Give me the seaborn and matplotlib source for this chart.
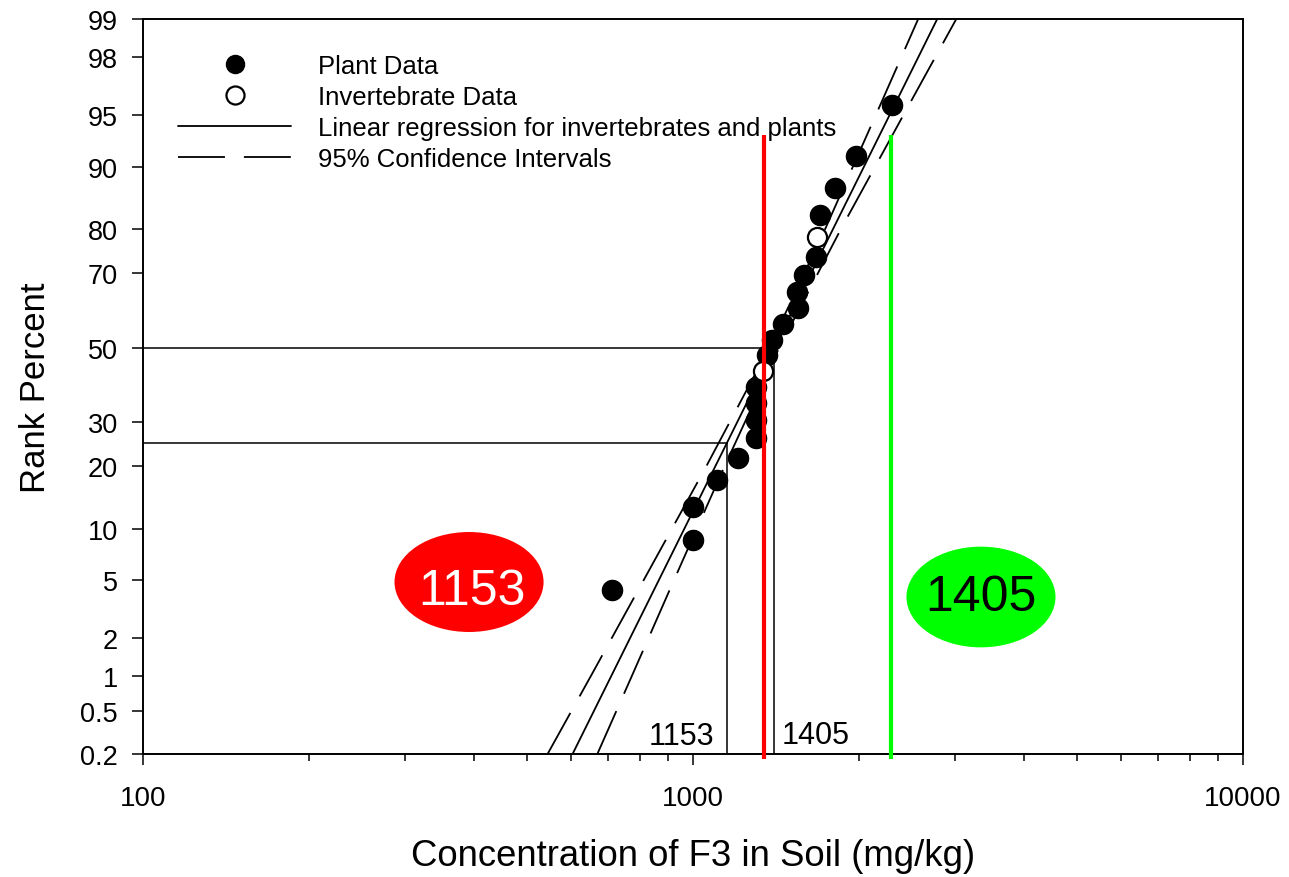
import numpy as np
import pandas as pd
import matplotlib
matplotlib.use("Agg")
import matplotlib.pyplot as plt
import seaborn as sns
from matplotlib.lines import Line2D
from matplotlib.patches import Ellipse
from matplotlib.ticker import FixedLocator, NullLocator, NullFormatter
from statistics import NormalDist

# --- Data ---
plant_conc = [713, 1002, 1002, 1106, 1207, 1300, 1300, 1300, 1300, 1362,
              1390, 1456, 1550, 1545, 1591, 1671, 1700, 1810, 1977, 2296]
plant_rank = [4.3, 8.7, 13.0, 17.4, 21.7, 26.1, 30.4, 34.8, 39.1, 47.8,
              52.2, 56.5, 60.9, 65.2, 69.6, 73.9, 82.6, 87.0, 91.3, 95.7]

invert_conc = [1340, 1678]
invert_rank = [43.5, 78.3]

# regression line end points
reg_conc = [604, 2780]
reg_rank = [0.2, 99]

# 95% confidence band
ci_rank = [0.2, 1, 5, 20, 50, 80, 95, 99]
ci_low = [544, 652, 814, 1057, 1376, 1740, 2149, 2567]
ci_high = [670, 774, 924, 1141, 1435, 1859, 2412, 3011]

# 25th / 50th percentile read-offs
hc5_values = [1153, 1405]
hc5_ranks = [25, 50]

# coloured markers
red_x = 1345
green_x = 2294
marker_top = 93.4
marker_bottom = 0.18

y_ticks = [0.2, 0.5, 1, 2, 5, 10, 20, 30, 50, 70, 80, 90, 95, 98, 99]
y_ticklabels = ["0.2", "0.5", "1", "2", "5", "10", "20", "30", "50",
                "70", "80", "90", "95", "98", "99"]

# --- probability scale helpers ---
_nd = NormalDist()
_ppf = np.vectorize(lambda p: _nd.inv_cdf(min(max(p / 100.0, 1e-9), 1 - 1e-9)),
                    otypes=[float])
_cdf = np.vectorize(lambda z: _nd.cdf(z) * 100.0, otypes=[float])


def prob_forward(p):
    return _ppf(np.asarray(p, dtype=float))


def prob_inverse(z):
    return _cdf(np.asarray(z, dtype=float))


sns.set_style("ticks")
plt.rcParams["font.family"] = ["Liberation Sans", "DejaVu Sans"]
plt.rcParams["text.color"] = "black"
plt.rcParams["axes.labelcolor"] = "black"
plt.rcParams["xtick.color"] = "black"
plt.rcParams["ytick.color"] = "black"

fig = plt.figure(figsize=(12.89, 8.78), dpi=100)
ax = fig.add_axes([143 / 1289, 1 - 755 / 878, 1100 / 1289, 735 / 878])

plants = pd.DataFrame({"conc": plant_conc, "rank": plant_rank})
inverts = pd.DataFrame({"conc": invert_conc, "rank": invert_rank})

# reference lines at the 25th and 50th percentile
for xv, rv in zip(hc5_values, hc5_ranks):
    ax.plot([100, xv], [rv, rv], color="black", lw=1.1, zorder=2)
    ax.plot([xv, xv], [0.2, rv], color="black", lw=1.1, zorder=2)

dash = (26, 10.5)
sns.lineplot(x=reg_conc, y=reg_rank, color="black", lw=1.3, sort=False,
             estimator=None, ax=ax, zorder=3)
sns.lineplot(x=ci_low, y=ci_rank, color="black", lw=1.3, sort=False,
             estimator=None, ax=ax, zorder=3)
sns.lineplot(x=ci_high, y=ci_rank, color="black", lw=1.3, sort=False,
             estimator=None, ax=ax, zorder=3)
for ln in ax.lines[-2:]:
    ln.set_dashes(dash)

sns.scatterplot(data=plants, x="conc", y="rank", color="black", s=210,
                edgecolor="black", linewidth=1, ax=ax, zorder=4)
sns.scatterplot(data=inverts, x="conc", y="rank", color="white", s=190,
                edgecolor="black", linewidth=1.6, ax=ax, zorder=4)

ax.vlines(red_x, marker_bottom, marker_top, color="#ff0000", lw=3, zorder=5,
          clip_on=False)
ax.vlines(green_x, marker_bottom, marker_top, color="#00ff00", lw=3, zorder=5,
          clip_on=False)

ax.set_xscale("log")
ax.set_yscale("function", functions=(prob_forward, prob_inverse))
ax.set_xlim(100, 10000)
ax.set_ylim(0.2, 99)

ax.yaxis.set_major_locator(FixedLocator(y_ticks))
ax.set_yticklabels(y_ticklabels)
ax.yaxis.set_minor_locator(NullLocator())
ax.set_xticks([100, 1000, 10000])
ax.set_xticklabels(["100", "1000", "10000"])
ax.xaxis.set_minor_formatter(NullFormatter())

ax.tick_params(axis="x", which="major", direction="out", length=8, width=1.1,
               labelsize=20, pad=14)
ax.tick_params(axis="x", which="minor", direction="out", length=5, width=1.1)
ax.tick_params(axis="y", which="major", direction="out", length=8, width=1.1,
               labelsize=19.5, pad=10)
for sp in ax.spines.values():
    sp.set_linewidth(1.4)
    sp.set_color("black")

ax.set_xlabel("Concentration of F3 in Soil (mg/kg)", fontsize=26.3, labelpad=20)
ax.set_ylabel("Rank Percent", fontsize=25, labelpad=20)

# small read-off labels
ax.annotate("1153", xy=(hc5_values[0], 0.2), xytext=(-9, 2),
            textcoords="offset points", ha="right", va="bottom", fontsize=22)
ax.annotate("1405", xy=(hc5_values[1], 0.2), xytext=(5, 3),
            textcoords="offset points", ha="left", va="bottom", fontsize=22)

# coloured call-outs
ax.add_patch(Ellipse((0.2964, 0.234), 0.1355, 0.136, transform=ax.transAxes,
                     facecolor="#ff0000", edgecolor="none", zorder=6))
ax.text(0.2995, 0.222, "1153", transform=ax.transAxes, ha="center",
        va="center", fontsize=36, color="white", zorder=7)
ax.add_patch(Ellipse((0.7618, 0.2136), 0.1355, 0.137, transform=ax.transAxes,
                     facecolor="#00ff00", edgecolor="none", zorder=6))
ax.text(0.7618, 0.2136, "1405", transform=ax.transAxes, ha="center",
        va="center", fontsize=36, color="black", zorder=7)

# legend
handles = [
    Line2D([], [], marker="o", ls="none", color="black", markersize=13),
    Line2D([], [], marker="o", ls="none", markerfacecolor="white",
           markeredgecolor="black", markeredgewidth=1.6, markersize=13),
    Line2D([], [], color="black", lw=1.3),
    Line2D([], [], color="black", lw=1.3, dashes=dash),
]
labels = ["Plant Data", "Invertebrate Data",
          "Linear regression for invertebrates and plants",
          "95% Confidence Intervals"]
ax.legend(handles, labels, loc="upper left", bbox_to_anchor=(0.0318, 0.952),
          frameon=False, fontsize=18.5, handlelength=4.4, handletextpad=1.05,
          labelspacing=0.27, borderpad=0, borderaxespad=0)

fig.savefig("out.png", dpi=100)
